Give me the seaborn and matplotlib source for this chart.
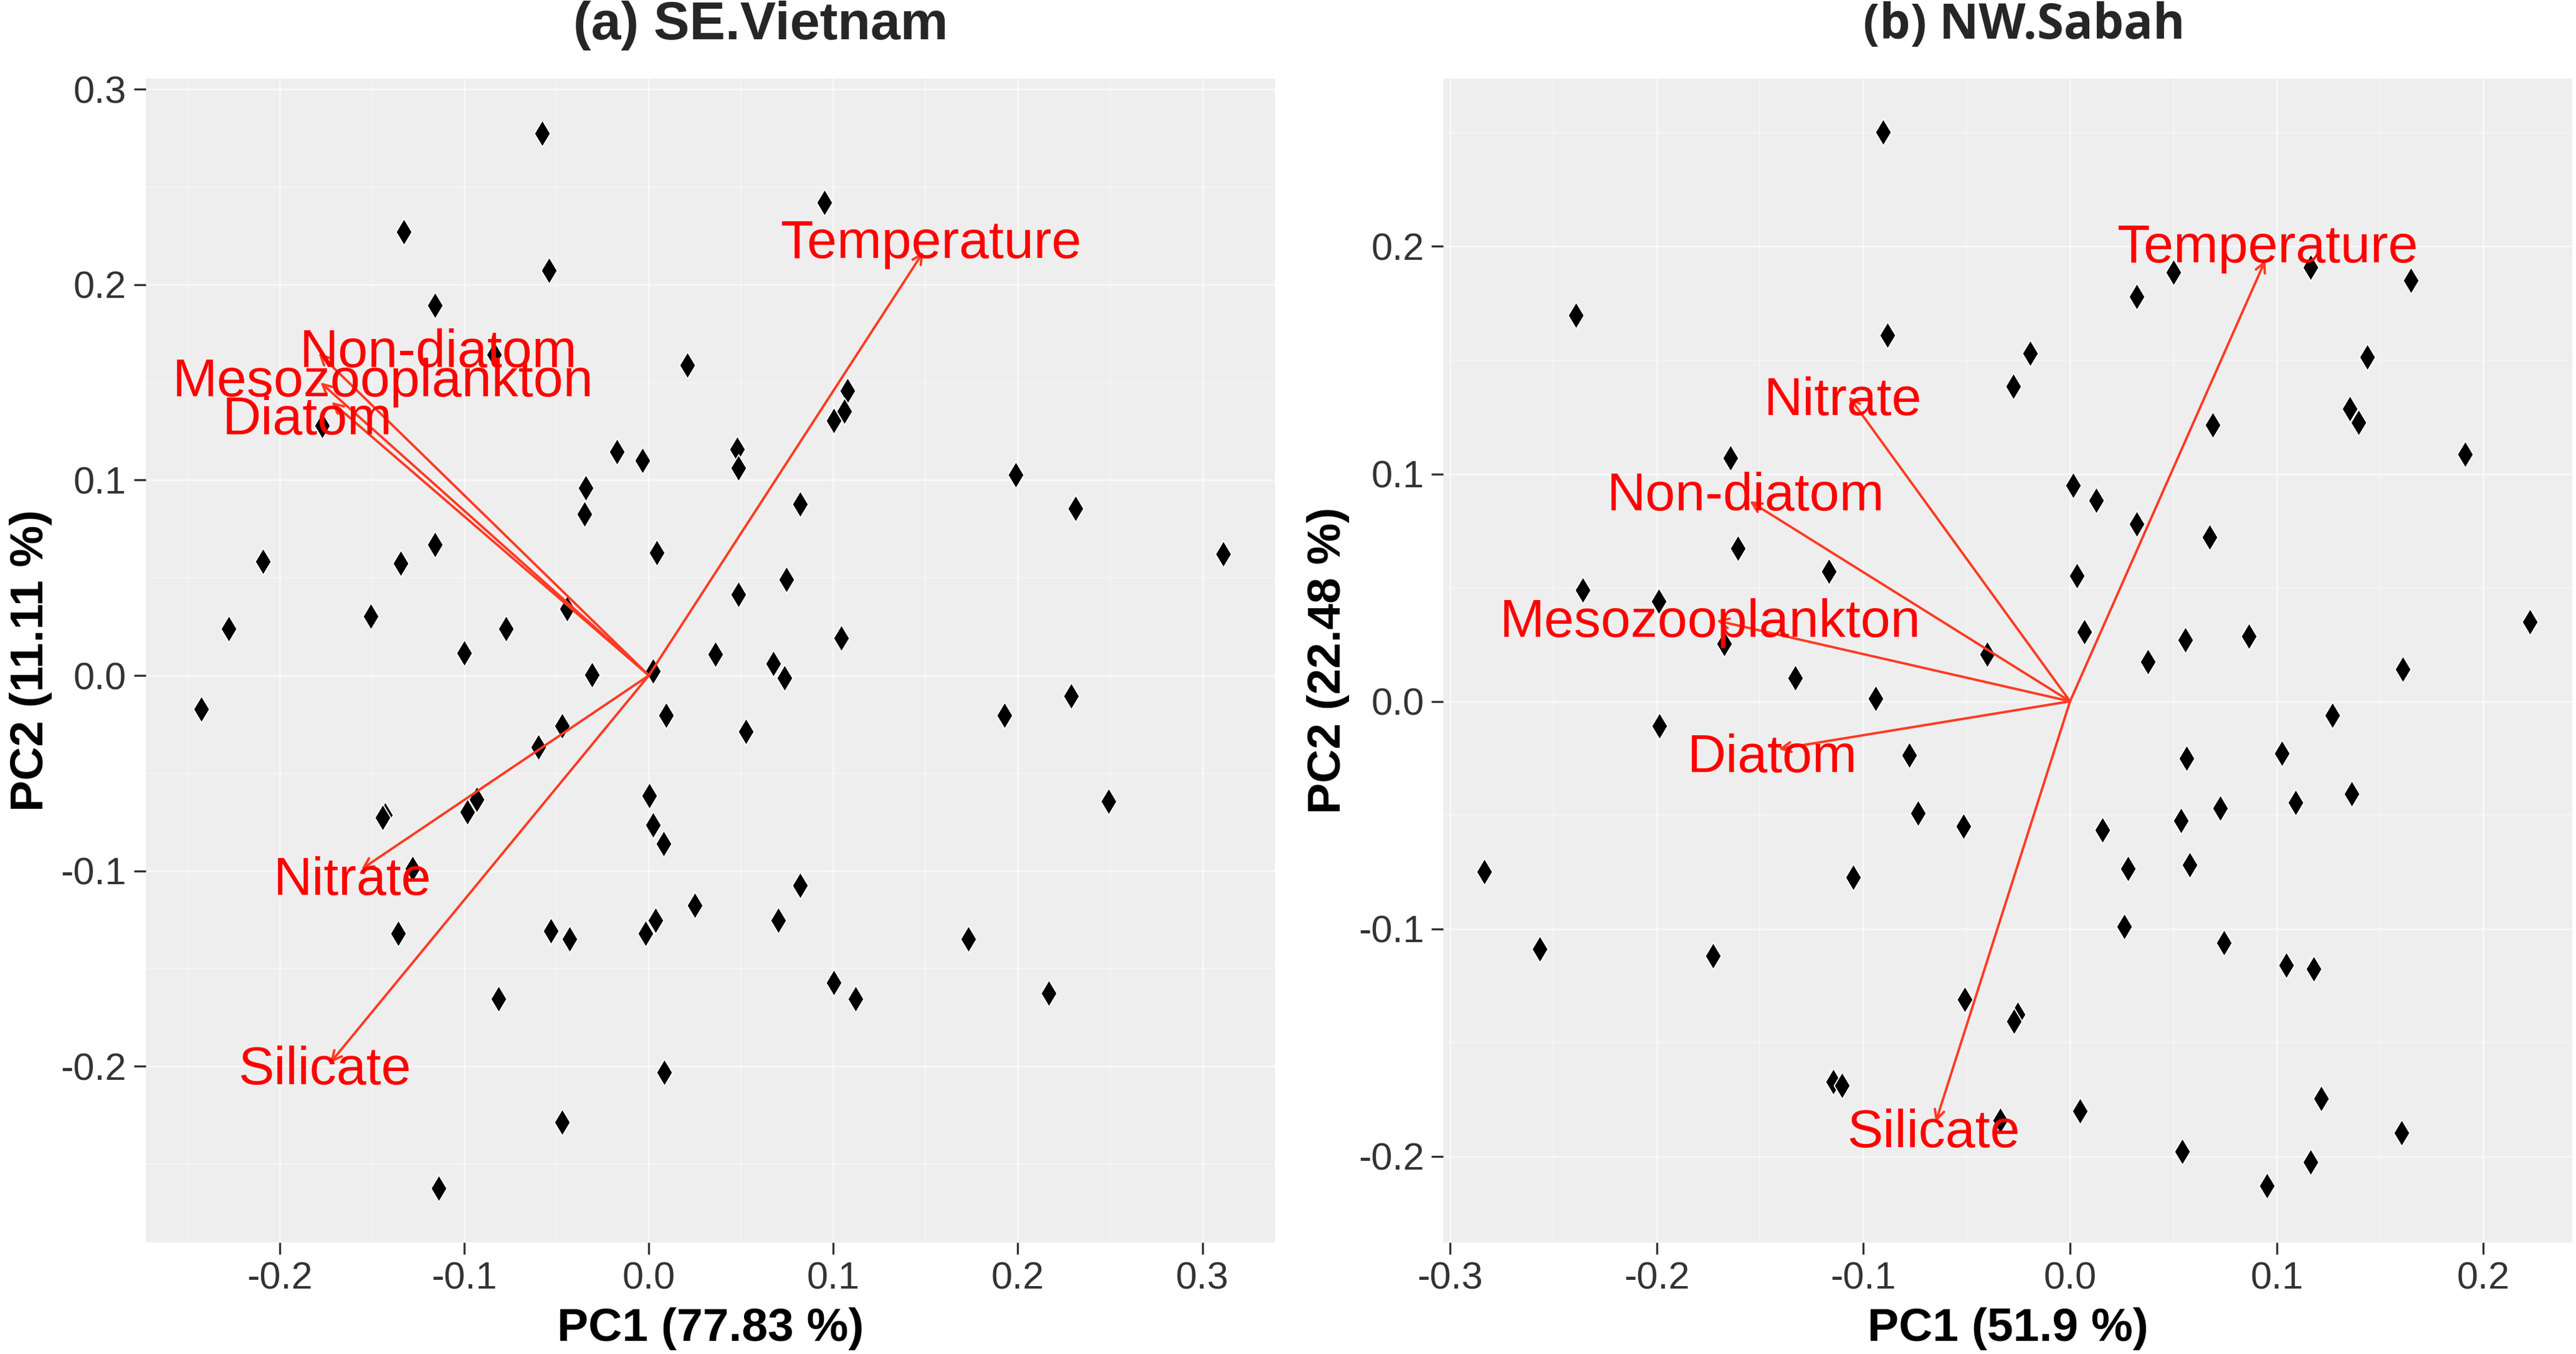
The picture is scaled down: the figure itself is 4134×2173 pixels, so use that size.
import numpy as np
import pandas as pd
import matplotlib
matplotlib.use('Agg')
import matplotlib.pyplot as plt
import seaborn as sns

# ---- (a) SE.Vietnam: sample scores ----
vn_pc1 = [-0.058, 0.0952, -0.1329, -0.054, -0.116, -0.0837, 0.0208, 0.1076, 0.1058, 0.1001,
          -0.177, -0.0173, -0.0035, 0.0478, 0.0487, -0.0341, -0.035, 0.1988, 0.2312, 0.0819,
          0.0044, -0.116, -0.209, -0.1346, 0.3113, 0.0744, 0.0487, -0.1506, -0.2276, -0.0775,
          -0.0443, 0.1041, -0.1001, 0.0359, 0.0673, 0.0735, -0.031, 0.0022, -0.2427, 0.0093,
          -0.0469, 0.0527, 0.1926, 0.229, -0.0598, 0.0004, 0.2493, -0.0934, -0.0983, -0.143,
          -0.1444, 0.0022, 0.008, -0.128, 0.0819, 0.0248, 0.0035, 0.07, -0.136, -0.0531,
          -0.043, -0.0018, 0.1732, 0.1001, 0.112, 0.2166, -0.0815, 0.0084, -0.0469, -0.1138]
vn_pc2 = [0.2775, 0.242, 0.227, 0.2074, 0.1895, 0.1642, 0.1587, 0.1457, 0.1352, 0.1305,
          0.1278, 0.1146, 0.1099, 0.1158, 0.1061, 0.0959, 0.0827, 0.1026, 0.0856, 0.0876,
          0.063, 0.067, 0.0583, 0.0574, 0.0621, 0.0492, 0.0416, 0.0304, 0.0239, 0.0239,
          0.0342, 0.019, 0.0116, 0.0107, 0.006, -0.0013, 0.0004, 0.0022, -0.0172, -0.0203,
          -0.0258, -0.0287, -0.0203, -0.0105, -0.0368, -0.0614, -0.0643, -0.0636, -0.0698, -0.0714,
          -0.0726, -0.0765, -0.086, -0.0987, -0.1075, -0.1178, -0.1252, -0.1252, -0.1319, -0.1309,
          -0.1348, -0.1319, -0.1348, -0.1572, -0.1656, -0.1627, -0.1656, -0.2031, -0.2287, -0.2624]

# ---- (b) NW.Sabah: sample scores ----
sb_pc1 = [-0.0905, -0.2391, 0.0323, 0.0501, 0.1163, 0.1648, -0.0884, -0.0194, -0.0275, 0.1438,
          0.1353, 0.1397, 0.0691, 0.191, -0.1644, 0.0016, 0.0125, 0.0323, 0.0674, -0.1607,
          -0.1167, 0.0032, -0.2359, -0.1991, 0.0069, 0.0557, 0.0864, 0.2225, -0.1672, -0.04,
          0.0376, 0.1611, -0.1329, -0.0941, -0.1987, 0.1268, -0.0779, 0.0565, 0.1026, 0.1361,
          0.109, 0.0727, -0.0735, -0.0517, 0.0158, 0.0537, 0.0279, 0.0578, -0.2835, -0.105,
          0.0263, 0.0743, -0.2565, -0.1729, 0.1046, 0.1179, -0.0509, -0.0254, -0.0271, -0.1147,
          -0.1103, 0.1216, 0.0048, -0.0339, 0.1603, 0.0541, 0.1163, 0.0953]
sb_pc2 = [0.2504, 0.1698, 0.1779, 0.1885, 0.1908, 0.1852, 0.161, 0.1529, 0.1385, 0.1513,
          0.1287, 0.1225, 0.1215, 0.1085, 0.1069, 0.095, 0.0883, 0.0779, 0.0721, 0.0673,
          0.0571, 0.0552, 0.0488, 0.044, 0.0306, 0.0271, 0.0287, 0.035, 0.0254, 0.0206,
          0.0175, 0.0142, 0.0104, 0.0012, -0.0108, -0.0061, -0.0237, -0.0251, -0.0229, -0.0406,
          -0.0445, -0.0469, -0.0492, -0.0549, -0.0565, -0.0524, -0.0735, -0.0718, -0.0749, -0.0773,
          -0.099, -0.1061, -0.1088, -0.1118, -0.1159, -0.1176, -0.131, -0.1376, -0.1406, -0.1671,
          -0.1688, -0.1745, -0.18, -0.1841, -0.1896, -0.1978, -0.2027, -0.2129]

# ---- variable loadings (arrow tips) ----
variables = ['Temperature', 'Non-diatom', 'Mesozooplankton', 'Diatom', 'Nitrate', 'Silicate']
vn_load1 = [0.1488, -0.179, -0.178, -0.172, -0.1558, -0.1727]
vn_load2 = [0.2168, 0.165, 0.150, 0.140, -0.0992, -0.1983]
sb_load1 = [0.0945, -0.155, -0.171, -0.141, -0.107, -0.065]
sb_load2 = [0.194, 0.088, 0.0355, -0.021, 0.134, -0.185]

# label nudges away from the arrow tips (data units)
vn_nudge = [(0.004, 0.004), (0.065, 0.0), (0.034, 0.0), (-0.013, -0.0095), (-0.005, -0.006), (-0.003, -0.004)]
sb_nudge = [(0.001, 0.005), (-0.002, 0.002), (-0.003, -0.001), (-0.003, -0.004), (-0.003, -0.002), (-0.001, -0.005)]

panels = [
    dict(title='(a) SE.Vietnam', xlab='PC1 (77.83 %)', ylab='PC2 (11.11 %)',
         pc1=vn_pc1, pc2=vn_pc2, l1=vn_load1, l2=vn_load2, nudge=vn_nudge,
         xlim=(-0.2728, 0.3393), ylim=(-0.2902, 0.3054),
         xticks=[-0.2, -0.1, 0.0, 0.1, 0.2, 0.3], yticks=[-0.2, -0.1, 0.0, 0.1, 0.2, 0.3],
         box=[0.0565, 0.0824, 0.4384, 0.8594], title_x=0.2953,
         title_font=['Liberation Sans', 'DejaVu Sans'], title_size=31),
    dict(title='(b) NW.Sabah', xlab='PC1 (51.9 %)', ylab='PC2 (22.48 %)',
         pc1=sb_pc1, pc2=sb_pc2, l1=sb_load1, l2=sb_load2, nudge=sb_nudge,
         xlim=(-0.3032, 0.2429), ylim=(-0.2379, 0.2737),
         xticks=[-0.3, -0.2, -0.1, 0.0, 0.1, 0.2], yticks=[-0.2, -0.1, 0.0, 0.1, 0.2],
         box=[0.5603, 0.0824, 0.4382, 0.8594], title_x=0.7857,
         title_font=['Open Sans', 'DejaVu Sans'], title_size=28),
]

sns.set_theme(style='white')
plt.rcParams['font.family'] = ['Liberation Sans', 'DejaVu Sans']
tick_font = ['Liberation Sans Narrow', 'Liberation Sans', 'DejaVu Sans']

fig = plt.figure(figsize=(20.67, 10.865), dpi=200)
fig.patch.set_facecolor('white')

for p in panels:
    ax = fig.add_axes(p['box'])
    ax.set_facecolor('#eeeeee')
    for s in ax.spines.values():
        s.set_visible(False)

    # faint ggplot-style grid (major + minor)
    for v in p['xticks']:
        ax.axvline(v, color='white', lw=1.1, alpha=0.55, zorder=0)
    for v in np.arange(p['xticks'][0] - 0.05, p['xticks'][-1] + 0.1, 0.1):
        ax.axvline(v, color='white', lw=0.6, alpha=0.45, zorder=0)
    for v in p['yticks']:
        ax.axhline(v, color='white', lw=1.1, alpha=0.55, zorder=0)
    for v in np.arange(p['yticks'][0] - 0.05, p['yticks'][-1] + 0.1, 0.1):
        ax.axhline(v, color='white', lw=0.6, alpha=0.45, zorder=0)

    df = pd.DataFrame({'PC1': p['pc1'], 'PC2': p['pc2']})
    sns.scatterplot(data=df, x='PC1', y='PC2', ax=ax, marker='d', s=120,
                    color='black', edgecolor='white', linewidth=0.7, zorder=3)

    for name, x1, y1, (dx, dy) in zip(variables, p['l1'], p['l2'], p['nudge']):
        ax.annotate('', xy=(x1, y1), xytext=(0, 0),
                    arrowprops=dict(arrowstyle='->', color='#ff3a22', lw=1.4,
                                    shrinkA=0, shrinkB=0, mutation_scale=14),
                    zorder=4)
        ax.text(x1 + dx, y1 + dy, name, color='#ff0000', fontsize=31,
                ha='center', va='center', zorder=5)

    ax.set_xlim(p['xlim'])
    ax.set_ylim(p['ylim'])
    ax.set_xticks(p['xticks'])
    ax.set_yticks(p['yticks'])
    ax.set_xticklabels([f'{t:.1f}' for t in p['xticks']], family=tick_font, fontsize=22, color='#333333')
    ax.set_yticklabels([f'{t:.1f}' for t in p['yticks']], family=tick_font, fontsize=22, color='#333333')
    ax.tick_params(axis='both', which='major', length=7, width=1.2, color='#333333',
                   direction='out', pad=4, bottom=True, left=True)
    ax.set_xlabel(p['xlab'], fontsize=27, fontweight='bold', color='black', labelpad=6)
    ax.set_ylabel(p['ylab'], fontsize=27, fontweight='bold', color='black', labelpad=5)

    fig.text(p['title_x'], 0.981, p['title'], ha='center', va='center',
             fontsize=p['title_size'], fontweight='bold', family=p['title_font'])

fig.savefig('out.png', dpi=200, facecolor='white')
